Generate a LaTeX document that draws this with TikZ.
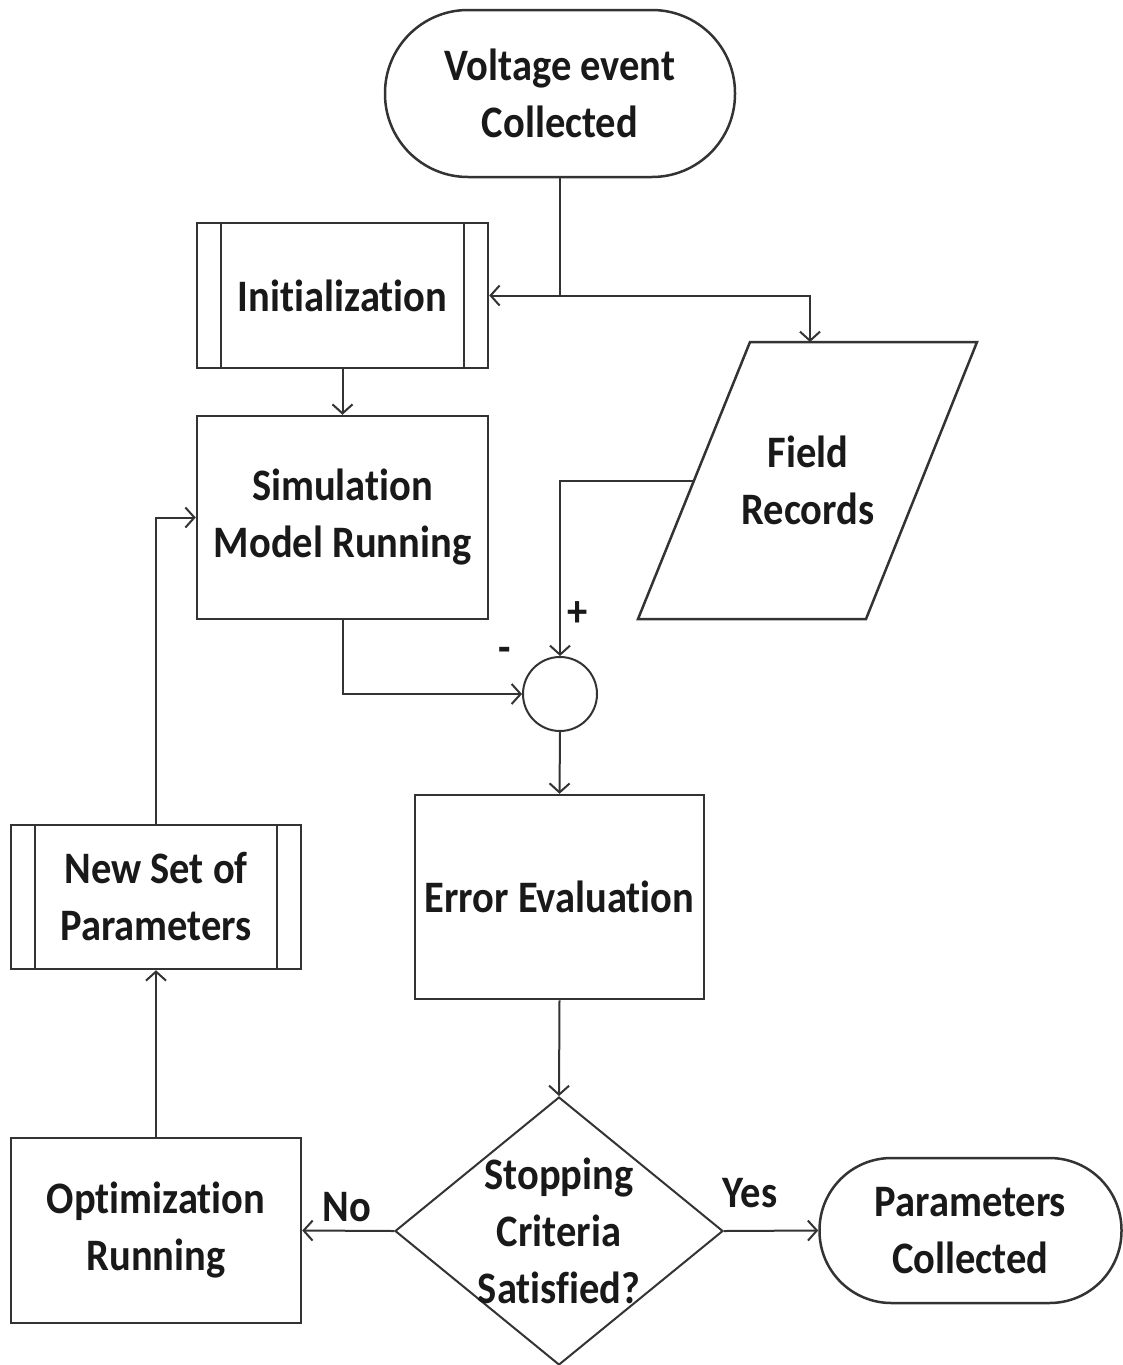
\documentclass[tikz,border=0pt]{standalone}
\usepackage{fontspec}
\setmainfont{Carlito}[FakeStretch=0.9,Ligatures=NoCommon]
\usetikzlibrary{arrows.meta,shapes.geometric}
\begin{document}
\begin{tikzpicture}[x=1pt,y=-1pt,
  txt/.style={align=center, text=black!90, font=\bfseries\fontsize{45}{57}\selectfont, inner sep=0pt},
  box/.style={txt, draw=black!80, line width=2.5pt, fill=white},
  conn/.style={draw=black!80, line width=2pt},
  arr/.style={conn, -{Straight Barb[length=9pt,width=20pt]}},
  sub/.style={draw=black!80, line width=2pt}]
\useasboundingbox[fill=white] (0,0) rectangle (1123,1365);

% nodes
\node[box, rounded corners=83pt, minimum width=350pt, minimum height=167pt] (start) at (560,93.5) {Voltage event\\Collected};
\node[box, minimum width=291pt, minimum height=145pt] (ini) at (342.5,295.5) {Initialization};
\draw[sub] ([xshift=25pt]ini.north west) -- ([xshift=25pt]ini.south west);
\draw[sub] ([xshift=-25pt]ini.north east) -- ([xshift=-25pt]ini.south east);
\node[box, minimum width=291pt, minimum height=203pt] (sim) at (342.5,517.5) {Simulation\\Model Running};

\coordinate (p1) at (750,342);
\coordinate (p2) at (977,342);
\coordinate (p3) at (866,619);
\coordinate (p4) at (638,619);
\draw[draw=black!80, line width=2.5pt] (p1) -- (p2) -- (p3) -- (p4) -- cycle;
\node[txt] (fr) at (808,480) {Field\\Records};
\coordinate (frl) at (694,481);
\coordinate (frt) at (810,342);

\node[draw=black!80, circle, minimum size=74pt, line width=2pt, inner sep=0pt] (sum) at (560,694) {};
\node[box, minimum width=289pt, minimum height=204pt] (err) at (559.5,897) {Error Evaluation};
\node[draw=black!80, diamond, minimum width=328pt, minimum height=268pt, inner sep=0pt, line width=2pt] (dm) at (559,1231) {};
\node[txt] (dmt) at (559,1231) {Stopping\\Criteria\\Satisfied?};
\node[box, rounded corners=72pt, minimum width=302pt, minimum height=145pt] (pc) at (970.5,1230.5) {Parameters\\Collected};
\node[box, minimum width=290pt, minimum height=185pt] (opt) at (156,1230.5) {Optimization\\Running};
\node[box, minimum width=290pt, minimum height=144pt] (nsp) at (156,897) {New Set of\\Parameters};
\draw[sub] ([xshift=25pt]nsp.north west) -- ([xshift=25pt]nsp.south west);
\draw[sub] ([xshift=-25pt]nsp.north east) -- ([xshift=-25pt]nsp.south east);

% connectors
\draw[arr] (start.south) |- (ini.east);
\coordinate (j) at (start.south |- ini.east);
\draw[arr] (j) -| (frt);
\draw[arr] (ini.south) -- (sim.north);
\draw[arr] (frl) -| (sum.north);
\draw[arr] (sim.south) |- (sum.west);
\draw[arr] (sum.south) -- (err.north);
\draw[arr] (err.south) -- (dm.north);
\draw[arr] (dm.east) -- (pc.west);
\draw[arr] (dm.west) -- (opt.east);
\draw[arr] (opt.north) -- (nsp.south);
\draw[arr] (nsp.north) |- (sim.west);

% labels
\node[txt] (plus) at (578,614) {+};
\node[txt] (minus) at (505,655) {-};
\node[txt] (yes) at (750,1193) {Yes};
\node[txt] (no) at (347,1207) {No};
\end{tikzpicture}
\end{document}
